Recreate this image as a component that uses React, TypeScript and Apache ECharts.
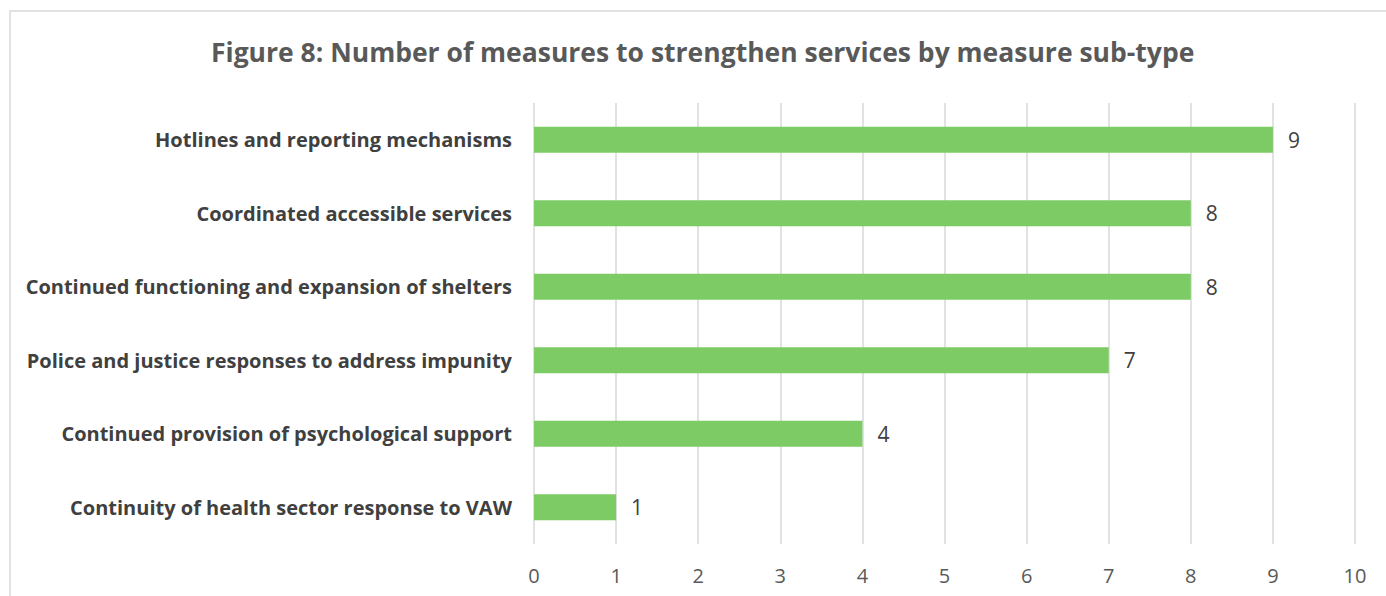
import React, { useEffect, useRef } from "react";
import * as echarts from "echarts";

const categories = [
  "Continuity of health sector response to VAW",
  "Continued provision of psychological support",
  "Police and justice responses to address impunity",
  "Continued functioning and expansion of shelters",
  "Coordinated accessible services",
  "Hotlines and reporting mechanisms",
];
const values = [1, 4, 7, 8, 8, 9];
const titleText = "Figure 8: Number of measures to strengthen services by measure sub-type";

export default function App() {
  const ref = useRef<HTMLDivElement>(null);
  useEffect(() => {
    document.body.style.margin = "0";
    const chart = echarts.init(ref.current!, null, { renderer: "svg" });
    const font = "Open Sans";
    chart.setOption({
      animation: false,
      backgroundColor: "#ffffff",
      title: {
        text: titleText,
        left: 206,
        top: 33,
        textStyle: { fontFamily: font, fontSize: 26.5, fontWeight: "bold", color: "#595959" },
      },
      graphic: [
        {
          type: "rect",
          shape: { x: 10, y: 11, width: 1400, height: 600 },
          style: { fill: "none", stroke: "#d9d9d9", lineWidth: 1.5 },
          silent: true,
          z: -1,
        },
      ],
      grid: { left: 534, right: 31, top: 103, bottom: 52, containLabel: false },
      xAxis: {
        type: "value",
        min: 0,
        max: 10,
        interval: 1,
        axisLine: { show: false },
        axisTick: { show: false },
        splitLine: { show: true, lineStyle: { color: "#d9d9d9", width: 1.5 } },
        axisLabel: { fontFamily: font, fontSize: 20, color: "#595959", margin: 21 },
      },
      yAxis: {
        type: "category",
        data: categories,
        axisLine: { show: false },
        axisTick: { show: false },
        axisLabel: { fontFamily: font, fontSize: 20, fontWeight: "bold", color: "#404040", margin: 22 },
      },
      series: [
        {
          type: "bar",
          data: values,
          barWidth: 26,
          itemStyle: { color: "#7ccb64" },
          label: {
            show: true,
            position: "right",
            distance: 15,
            fontFamily: font,
            fontSize: 21,
            color: "#404040",
          },
        },
      ],
    });
    return () => chart.dispose();
  }, []);
  return <div ref={ref} style={{ width: 1386, height: 596 }} />;
}
